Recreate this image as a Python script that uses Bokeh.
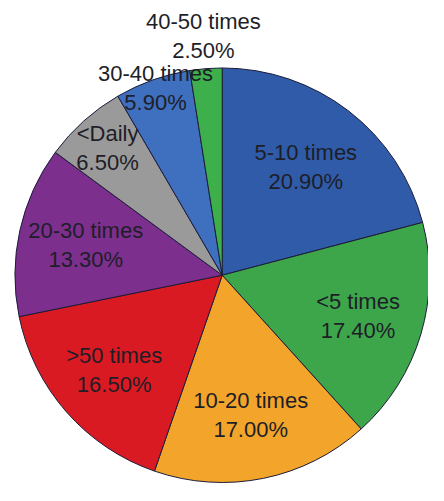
import math
from bokeh.plotting import figure
from bokeh.models import Range1d, ColumnDataSource
from bokeh.core.properties import value
from bokeh.embed import file_html
from bokeh.resources import INLINE

# ---- data ----
categories = ["5-10 times", "<5 times", "10-20 times", ">50 times",
              "20-30 times", "<Daily", "30-40 times", "40-50 times"]
percents = [20.9, 17.4, 17.0, 16.5, 13.3, 6.5, 5.9, 2.5]

# ---- styles / layout ----
colors = ["#2F5BA8", "#3DA64A", "#F2A52A", "#DA1A22",
          "#7D2F8E", "#9A9A9A", "#3F6FBF", "#3DB04C"]
label_dist = [142, 147, 148, 149, 145, 178, 206, 249]

W, H = 428, 485
S = W / 444.0
CX, CY, R = 230 * S, H - 285 * S, 215 * S
LINE_GAP = 15 * S

total = sum(percents)
starts, ends, xs1, ys1, xs2, ys2, t1, t2 = [], [], [], [], [], [], [], []
cum = 0.0
for cat, pct, d in zip(categories, percents, label_dist):
    a0 = math.pi / 2 - 2 * math.pi * cum / total
    cum += pct
    a1 = math.pi / 2 - 2 * math.pi * cum / total
    starts.append(a0)
    ends.append(a1)
    mid = (a0 + a1) / 2
    lx = CX + d * S * math.cos(mid)
    ly = CY + d * S * math.sin(mid)
    xs1.append(lx); ys1.append(ly + LINE_GAP)
    xs2.append(lx); ys2.append(ly - LINE_GAP)
    t1.append(cat)
    t2.append(f"{pct:.2f}%")

src = ColumnDataSource(dict(start=starts, end=ends, color=colors,
                            x=[CX] * len(categories), y=[CY] * len(categories)))

p = figure(width=W, height=H, output_backend="svg", toolbar_location=None,
           x_range=Range1d(0, W), y_range=Range1d(0, H),
           min_border=0)
p.axis.visible = False
p.grid.visible = False
p.outline_line_color = None
p.background_fill_color = "white"

p.wedge(x="x", y="y", radius=R, start_angle="start", end_angle="end",
        direction="clock", fill_color="color", line_color="#1c1c3a",
        line_width=1, source=src)

lab = ColumnDataSource(dict(x1=xs1, y1=ys1, x2=xs2, y2=ys2, t1=t1, t2=t2))
for xk, yk, tk in (("x1", "y1", "t1"), ("x2", "y2", "t2")):
    p.text(x=xk, y=yk, text=tk, source=lab, text_align="center",
           text_baseline="middle", text_font=value("Liberation Sans"),
           text_font_size="22px", text_color="#1e1e28")

open("out.html", "w").write(file_html(p, INLINE))
